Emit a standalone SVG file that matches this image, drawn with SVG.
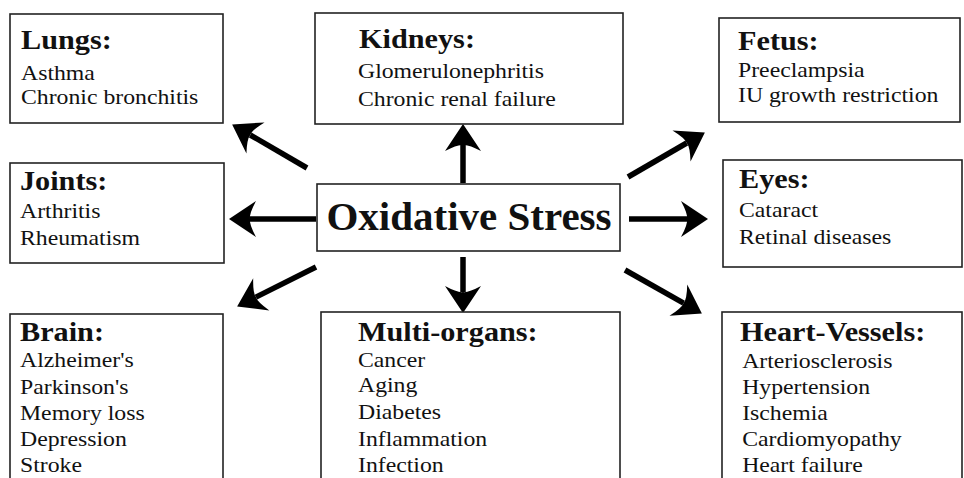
<svg xmlns="http://www.w3.org/2000/svg" width="964" height="478" viewBox="0 0 964 478">
<style>
.box{fill:#fff;stroke:#222;stroke-width:1.6}
.t{font-family:"Liberation Serif","Times New Roman",serif;font-weight:bold;font-size:28px;fill:#111}
.b{font-family:"Liberation Serif","Times New Roman",serif;font-size:22px;fill:#111}
.c{font-family:"Liberation Serif","Times New Roman",serif;font-weight:bold;font-size:41px;fill:#111}
.arr{stroke:#000;stroke-width:5.5;fill:none;marker-end:url(#ah)}
</style>
<defs>
<marker id="ah" markerUnits="userSpaceOnUse" viewBox="-10 -20 34 40" markerWidth="34" markerHeight="40" refX="0" refY="0" orient="auto" overflow="visible">
<path d="M21,0 L-6,-18 Q1,-5 0,0 Q1,5 -6,18 Z" fill="#000"/>
</marker>
</defs>
<rect width="964" height="478" fill="#fff"/>

<g id="connectors">
<line class="arr" x1="307" y1="168" x2="250.3" y2="135"/>
<line class="arr" x1="463" y1="183" x2="463" y2="145"/>
<line class="arr" x1="628" y1="177" x2="686.7" y2="143"/>
<line class="arr" x1="316" y1="219" x2="250" y2="219"/>
<line class="arr" x1="629" y1="219" x2="687" y2="219"/>
<line class="arr" x1="316" y1="267" x2="255.9" y2="297.1"/>
<line class="arr" x1="463" y1="257" x2="463" y2="292"/>
<line class="arr" x1="625" y1="270" x2="683.6" y2="303.1"/>
</g>

<g id="center">
<rect class="box" x="317" y="184" width="303" height="67"/>
<text class="c" x="469" y="230" text-anchor="middle">Oxidative Stress</text>
</g>

<g id="lungs">
<rect class="box" x="10" y="14" width="213" height="109"/>
<g transform="translate(21,0) scale(1.08,1)">
<text class="t" x="0" y="49">Lungs:</text>
<text class="b" x="0" y="80">Asthma</text>
<text class="b" x="0" y="104">Chronic bronchitis</text>
</g>
</g>

<g id="kidneys">
<rect class="box" x="315" y="13" width="308" height="111"/>
<g transform="translate(358,0) scale(1.08,1)">
<text class="t" x="1" y="48">Kidneys:</text>
<text class="b" x="0" y="78">Glomerulonephritis</text>
<text class="b" x="0" y="106">Chronic renal failure</text>
</g>
</g>

<g id="fetus">
<rect class="box" x="719" y="18" width="241" height="104"/>
<g transform="translate(738,0) scale(1.08,1)">
<text class="t" x="0" y="50">Fetus:</text>
<text class="b" x="0" y="77">Preeclampsia</text>
<text class="b" x="0" y="102">IU growth restriction</text>
</g>
</g>

<g id="joints">
<rect class="box" x="10" y="163" width="214" height="100"/>
<g transform="translate(20,0) scale(1.08,1)">
<text class="t" x="0" y="190">Joints:</text>
<text class="b" x="0" y="218">Arthritis</text>
<text class="b" x="0" y="245">Rheumatism</text>
</g>
</g>

<g id="eyes">
<rect class="box" x="723" y="160" width="239" height="107"/>
<g transform="translate(739,0) scale(1.08,1)">
<text class="t" x="0" y="188">Eyes:</text>
<text class="b" x="0" y="217">Cataract</text>
<text class="b" x="0" y="244">Retinal diseases</text>
</g>
</g>

<g id="brain">
<rect class="box" x="10" y="314" width="213" height="175"/>
<g transform="translate(20,0) scale(1.08,1)">
<text class="t" x="0" y="341">Brain:</text>
<text class="b" x="0" y="367">Alzheimer's</text>
<text class="b" x="0" y="394">Parkinson's</text>
<text class="b" x="0" y="420">Memory loss</text>
<text class="b" x="0" y="446">Depression</text>
<text class="b" x="0" y="472">Stroke</text>
</g>
</g>

<g id="multi-organs">
<rect class="box" x="321" y="312" width="299" height="177"/>
<g transform="translate(358,0) scale(1.08,1)">
<text class="t" x="0" y="341">Multi-organs:</text>
<text class="b" x="0" y="367">Cancer</text>
<text class="b" x="0" y="392">Aging</text>
<text class="b" x="0" y="419">Diabetes</text>
<text class="b" x="0" y="446">Inflammation</text>
<text class="b" x="0" y="472">Infection</text>
</g>
</g>

<g id="heart-vessels">
<rect class="box" x="722" y="312" width="240" height="177"/>
<g transform="translate(740,0) scale(1.08,1)">
<text class="t" x="0" y="341">Heart-Vessels:</text>
<text class="b" x="2" y="368">Arteriosclerosis</text>
<text class="b" x="2" y="394">Hypertension</text>
<text class="b" x="2" y="420">Ischemia</text>
<text class="b" x="2" y="446">Cardiomyopathy</text>
<text class="b" x="2" y="472">Heart failure</text>
</g>
</g>
</svg>
